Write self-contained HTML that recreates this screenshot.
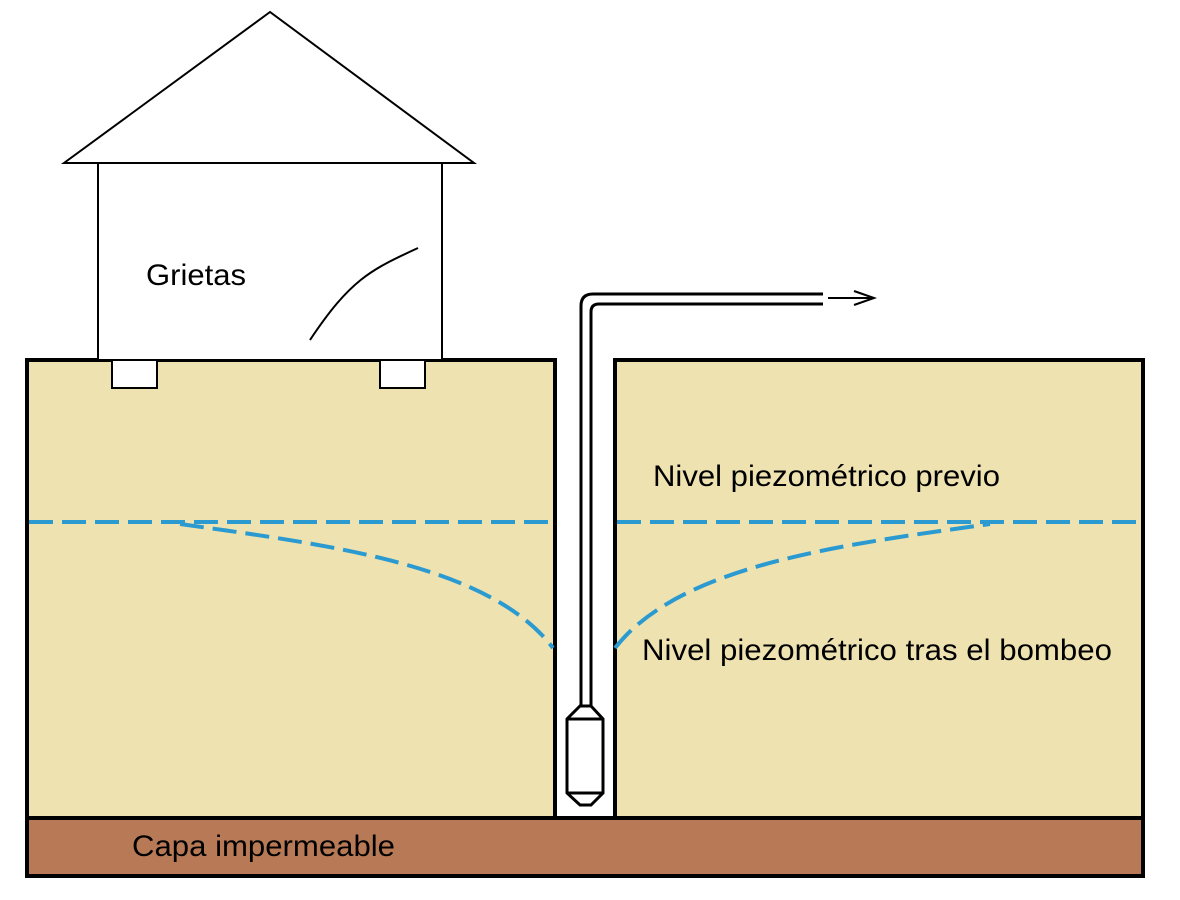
<!DOCTYPE html>
<html><head><style>body{margin:0;background:#fff}svg{display:block}</style></head>
<body>
<svg width="1180" height="900" viewBox="0 0 1180 900" xmlns="http://www.w3.org/2000/svg" font-family="Liberation Sans, sans-serif">
<rect width="1180" height="900" fill="#fff"/>
<rect x="27" y="360" width="528" height="458" fill="#eee2b0" stroke="#000" stroke-width="4"/>
<rect x="615" y="360" width="528" height="458" fill="#eee2b0" stroke="#000" stroke-width="4"/>
<rect x="27" y="818" width="1116" height="58" fill="#b87a56" stroke="#000" stroke-width="4"/>
<polygon points="270,12 64,163 474,163" fill="#fff" stroke="#000" stroke-width="2"/>
<rect x="98" y="163" width="344" height="197" fill="#fff" stroke="#000" stroke-width="2"/>
<rect x="112" y="360" width="45" height="28" fill="#fff" stroke="#000" stroke-width="2"/>
<rect x="380" y="360" width="45" height="28" fill="#fff" stroke="#000" stroke-width="2"/>
<path d="M310,340 C350,280 370,270 418,248" fill="none" stroke="#000" stroke-width="2"/>
<text x="146" y="285" font-size="30" textLength="100" lengthAdjust="spacingAndGlyphs">Grietas</text>
<g fill="none" stroke="#2a9ad0" stroke-width="4" stroke-dasharray="24,9">
<line x1="29" y1="522" x2="553" y2="522"/>
<line x1="617" y1="522" x2="1141" y2="522"/>
<path d="M180,524 C330,545 490,565 553,648"/>
<path d="M615,648 C680,565 840,545 990,524"/>
</g>
<path d="M581,706 L581,306 Q581,294 593,294 L823,294" fill="none" stroke="#000" stroke-width="3"/>
<path d="M591,706 L591,312 Q591,304 599,304 L823,304" fill="none" stroke="#000" stroke-width="3"/>
<line x1="828" y1="298" x2="872" y2="298" stroke="#000" stroke-width="2"/>
<path d="M854,291 L874,298 L854,305" fill="none" stroke="#000" stroke-width="2"/>
<polygon points="580,706 591,706 603,719 603,793 591,805 580,805 567,793 567,719" fill="#fff" stroke="#000" stroke-width="3"/>
<line x1="567" y1="719" x2="603" y2="719" stroke="#000" stroke-width="3"/>
<line x1="567" y1="793" x2="603" y2="793" stroke="#000" stroke-width="3"/>
<text x="653" y="486" font-size="30" textLength="347" lengthAdjust="spacingAndGlyphs">Nivel piezométrico previo</text>
<text x="642" y="660" font-size="30" textLength="470" lengthAdjust="spacingAndGlyphs">Nivel piezométrico tras el bombeo</text>
<text x="132" y="856" font-size="30" textLength="263" lengthAdjust="spacingAndGlyphs">Capa impermeable</text>
</svg>
</body></html>
